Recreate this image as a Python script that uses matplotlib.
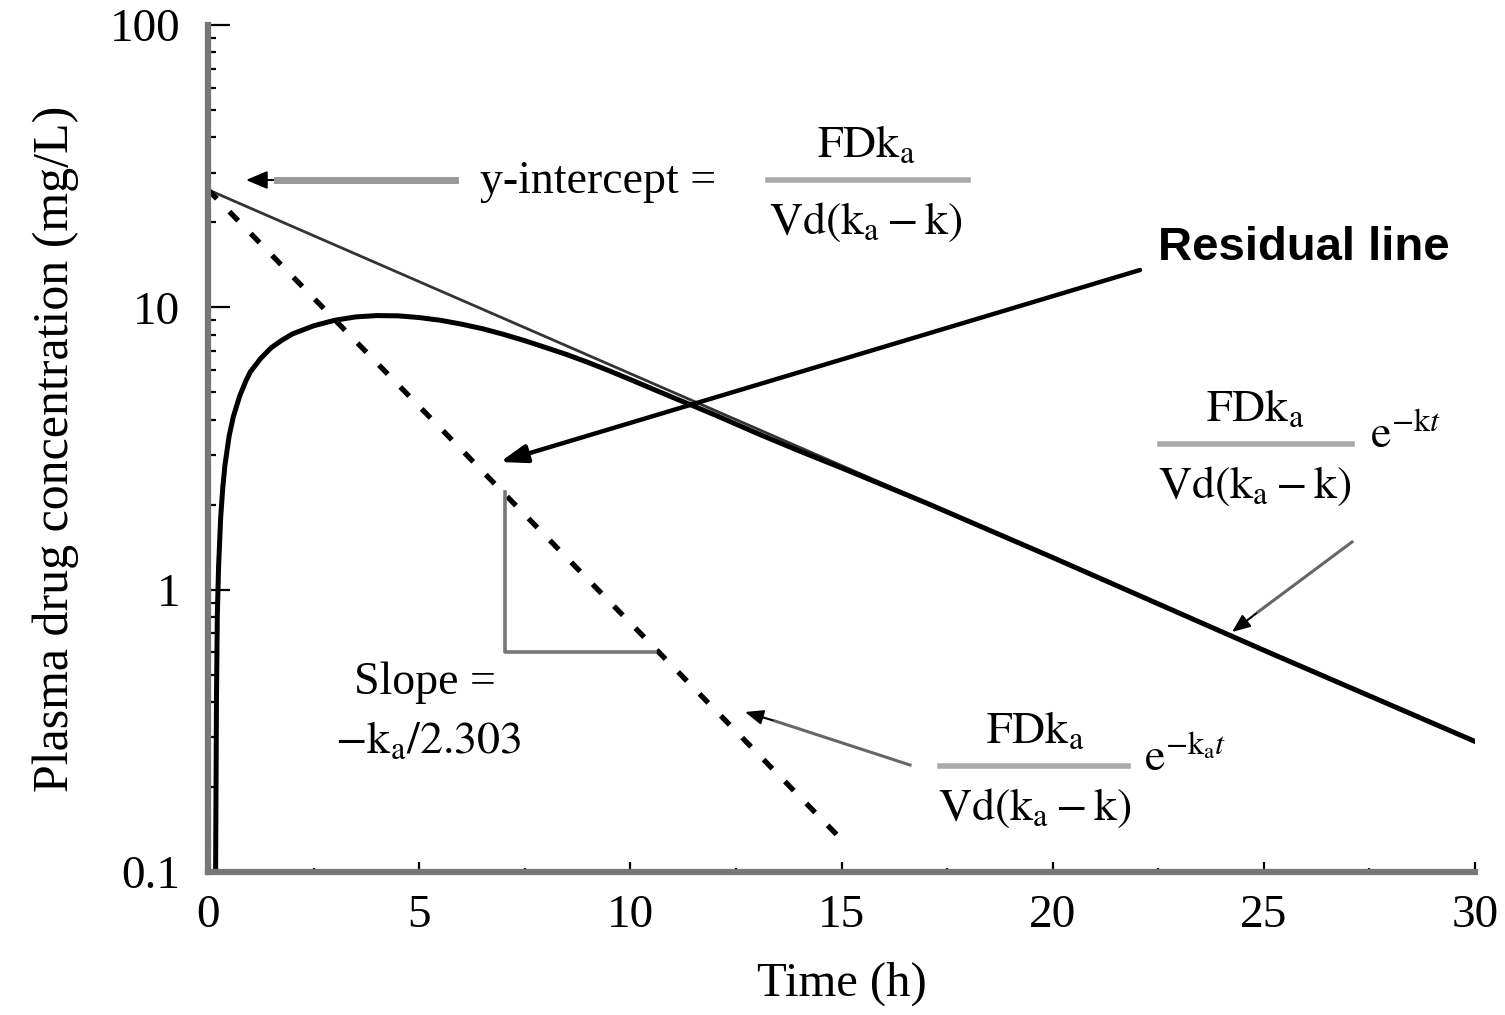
import matplotlib
matplotlib.use("Agg")
import matplotlib.pyplot as plt
from matplotlib.ticker import FixedLocator, NullFormatter
from matplotlib.lines import Line2D

plt.rcParams["font.family"] = ["Liberation Serif", "DejaVu Serif"]
plt.rcParams["mathtext.fontset"] = "stix"

# plasma concentration curve (time h, mg/L)
t_plasma = [0.18, 0.2, 0.22, 0.25, 0.3, 0.35, 0.4, 0.5, 0.6, 0.75, 0.9, 1.0,
            1.25, 1.5, 1.75, 2.0, 2.5, 3.0, 3.5, 4.0, 4.5, 5.0, 5.5, 6.0, 6.5,
            7.0, 7.5, 8.0, 8.5, 9.0, 9.5, 10.0, 10.5, 11.0, 11.5, 12.0, 13.0,
            14.0, 15.0, 17.0, 20.0, 25.0, 30.0]
c_plasma = [0.1, 0.4, 0.8, 1.2, 1.8, 2.3, 2.75, 3.5, 4.1, 4.85, 5.5, 5.9,
            6.6, 7.2, 7.65, 8.05, 8.6, 9.0, 9.25, 9.35, 9.33, 9.2, 9.0, 8.72, 8.4,
            8.02, 7.62, 7.2, 6.8, 6.38, 5.96, 5.55, 5.16, 4.8, 4.47, 4.16, 3.58,
            3.1, 2.7, 2.03, 1.3, 0.61, 0.29]

# terminal (elimination) line, extrapolated back to the y-intercept
t_term = [0.0, 30.0]
c_term = [26.1, 0.29]

# residual line
t_resid = [0.0, 14.9]
c_resid = [26.1, 0.135]

# slope triangle corners
t_tri = [7.03, 7.03, 10.58]
c_tri = [2.22, 0.60, 0.60]

x_ticks = [0, 5, 10, 15, 20, 25, 30]
x_minor = [2.5, 7.5, 12.5, 17.5, 22.5, 27.5]
y_ticks = [0.1, 1, 10, 100]
y_labels = ["0.1", "1", "10", "100"]

W, H = 1505, 1015
fig = plt.figure(figsize=(W / 100, H / 100), dpi=100)
ax = fig.add_axes([208 / W, 1 - 872 / H, (1475 - 208) / W, (872 - 25) / H])


def fp(x, y):
    # pixel position (from top-left) -> figure fraction
    return (x / W, 1 - y / H)


ax.plot(t_term, c_term, color="#333333", lw=2.0, solid_capstyle="butt")
ax.plot(t_plasma, c_plasma, color="black", lw=3.6, solid_joinstyle="round")
ax.plot(t_resid, c_resid, color="black", lw=3.8, ls=(0, (2.4, 3.4)),
        dash_capstyle="butt")
ax.plot(t_tri, c_tri, color="#777777", lw=2.6)

ax.set_yscale("log")
ax.set_xlim(0, 30)
ax.set_ylim(0.1, 100)

for s in ["top", "right"]:
    ax.spines[s].set_visible(False)
for s in ["left", "bottom"]:
    ax.spines[s].set_color("#777777")
    ax.spines[s].set_linewidth(4.5)

ax.set_xticks(x_ticks)
ax.set_xticklabels([str(v) for v in x_ticks])
ax.xaxis.set_minor_locator(FixedLocator(x_minor))
ax.set_yticks(y_ticks)
ax.set_yticklabels(y_labels)
ax.yaxis.set_minor_formatter(NullFormatter())

ax.tick_params(axis="y", which="major", direction="in", length=16, width=1.6,
               color="black", pad=20, labelsize=34)
ax.tick_params(axis="y", which="minor", direction="in", length=6, width=1.6,
               color="black")
ax.tick_params(axis="x", which="major", direction="in", length=7, width=1.6,
               color="black", pad=16, labelsize=34)
ax.tick_params(axis="x", which="minor", direction="in", length=3, width=1.6,
               color="black")

ax.set_xlabel("Time (h)", fontsize=35, labelpad=18)
ax.set_ylabel("Plasma drug concentration (mg/L)", fontsize=36, labelpad=22)

tf = fig.transFigure
fs = 33


def frac(cx, y_bar, x0, x1):
    fig.text(*fp(cx, y_bar - 34), r"$\mathrm{FDk}_{\mathrm{a}}$", ha="center",
             va="center", fontsize=fs)
    fig.text(*fp(cx, y_bar + 42), r"$\mathrm{Vd(k}_{\mathrm{a}}-\mathrm{k)}$",
             ha="center", va="center", fontsize=fs)
    fig.add_artist(Line2D([x0 / W, x1 / W], [1 - y_bar / H, 1 - y_bar / H],
                          color="#aaaaaa", lw=4, transform=tf))


def grey_arrow(tail, tip, neck):
    fig.add_artist(Line2D([tail[0] / W, neck[0] / W],
                          [1 - tail[1] / H, 1 - neck[1] / H],
                          color="#666666", lw=2.2, transform=tf))
    ax.annotate("", xy=fp(*tip), xycoords="figure fraction",
                xytext=fp(*neck), textcoords="figure fraction",
                arrowprops=dict(arrowstyle="-|>,head_length=1.1,head_width=0.45",
                                color="black", lw=1.5, shrinkA=0, shrinkB=0))


# y-intercept
fig.text(*fp(598, 182), "y-intercept =", ha="center", va="center", fontsize=fs)
frac(866, 180, 768, 968)
fig.add_artist(Line2D([277 / W, 455 / W], [1 - 180 / H, 1 - 180 / H],
                      color="#999999", lw=5, transform=tf))
ax.annotate("", xy=fp(246, 180), xycoords="figure fraction",
            xytext=fp(282, 180), textcoords="figure fraction",
            arrowprops=dict(arrowstyle="-|>,head_length=1.3,head_width=0.55",
                            color="black", lw=1.5, shrinkA=0, shrinkB=0))

# terminal line label
frac(1255, 444, 1160, 1352)
fig.text(*fp(1405, 437), r"$\mathrm{e}^{-\mathrm{k}t}$", ha="center",
         va="center", fontsize=fs)
grey_arrow((1352, 542), (1232, 632), (1258, 612))

# residual line label
frac(1035, 766, 940, 1128)
fig.text(*fp(1185, 760), r"$\mathrm{e}^{-\mathrm{k}_{\mathrm{a}}t}$", ha="center",
         va="center", fontsize=fs)
grey_arrow((910, 765), (745, 712), (775, 721))

# slope text
fig.text(*fp(425, 683), "Slope =", ha="center", va="center", fontsize=fs)
fig.text(*fp(428, 742), r"$-\mathrm{k}_{\mathrm{a}}/2.303$", ha="center",
         va="center", fontsize=fs)

# bold residual line callout
fig.text(*fp(1304, 248), "Residual line", ha="center", va="center",
         fontsize=34, fontweight="bold", family=["Liberation Sans", "DejaVu Sans"])
ax.annotate("", xy=fp(500, 462), xycoords="figure fraction",
            xytext=fp(1140, 270), textcoords="figure fraction",
            arrowprops=dict(arrowstyle="-|>,head_length=1.6,head_width=0.55",
                            color="black", lw=3.2, shrinkA=0, shrinkB=0))

fig.savefig("out.png", dpi=100)
